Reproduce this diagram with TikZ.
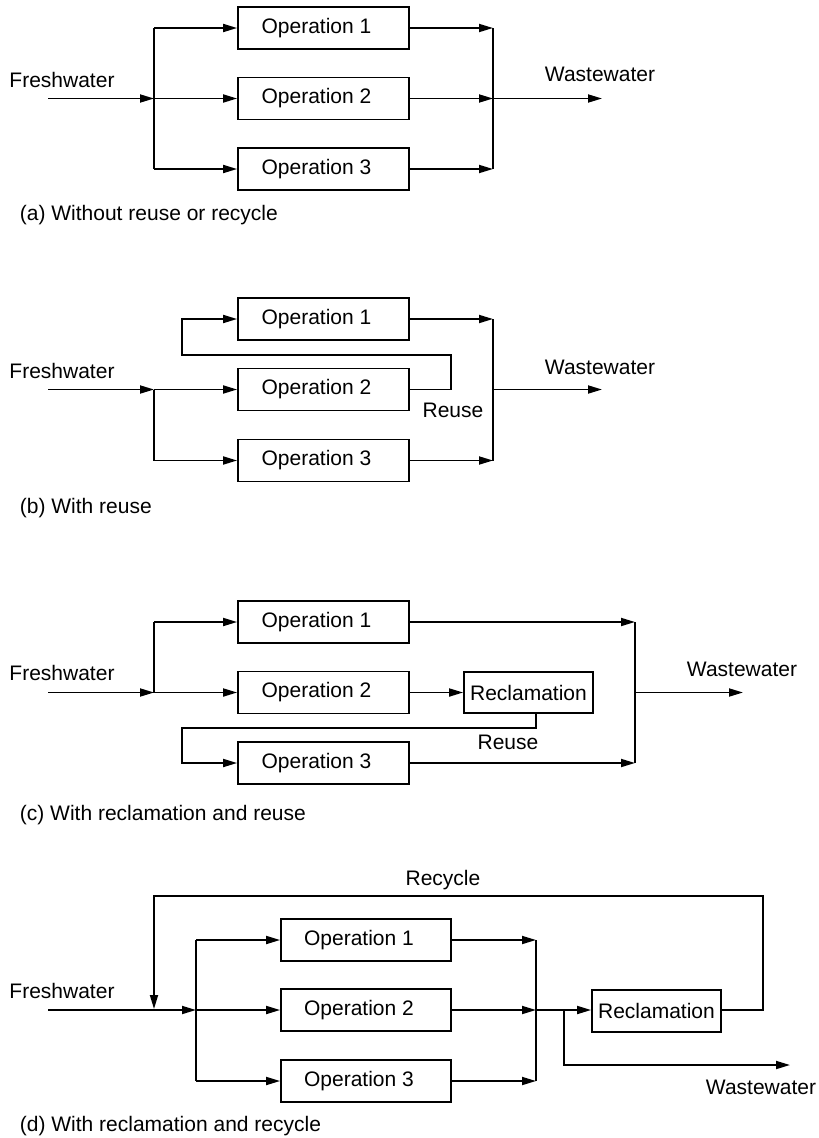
\documentclass[tikz,border=0pt]{standalone}
\usepackage{fontspec}
\setmainfont{Liberation Sans}
\usetikzlibrary{arrows.meta}
\begin{document}
\begin{tikzpicture}[x=1pt,y=-1pt, line width=1.8pt,
 op/.style={draw, minimum width=171pt, minimum height=42pt, inner sep=0pt, font=\fontsize{21}{24}\selectfont, execute at begin node={\kern-14pt}},
 rec/.style={draw, minimum width=129pt, minimum height=41pt, inner sep=0pt, font=\fontsize{21}{24}\selectfont},
 lbl/.style={inner sep=0pt, font=\fontsize{21}{24}\selectfont},
 arr/.style={-{Triangle[length=14pt,width=8pt]}}]
\useasboundingbox (0,0) rectangle (819,1138);

% ---------- (a) ----------
\node[op] (a1) at (323.5,28) {Operation 1};
\node[op] (a2) at (323.5,98.5) {Operation 2};
\node[op] (a3) at (323.5,169) {Operation 3};
\node[lbl] (afwl) at (62,80) {Freshwater};
\coordinate (afs) at (48,98.5);
\coordinate (aj) at (154,98.5);
\coordinate (am) at (493,98.5);
\coordinate (aw) at (602,98.5);
\draw[arr] (afs) -- (aj);
\draw (aj |- a1) -- (aj |- a3);
\draw[arr] (aj |- a1) -- (a1.west);
\draw[arr] (aj) -- (a2.west);
\draw[arr] (aj |- a3) -- (a3.west);
\draw[arr] (a1.east) -- (am |- a1);
\draw[arr] (a2.east) -- (am);
\draw[arr] (a3.east) -- (am |- a3);
\draw (am |- a1) -- (am |- a3);
\draw[arr] (am) -- (aw);
\node[lbl] (awl) at (600,74) {Wastewater};
\node[lbl, anchor=west] (acap) at (19,215) {(a) Without reuse or recycle};

% ---------- (b) ----------
\node[op] (b1) at (323.5,319) {Operation 1};
\node[op] (b2) at (323.5,389.5) {Operation 2};
\node[op] (b3) at (323.5,460.5) {Operation 3};
\node[lbl] (bfwl) at (62,371) {Freshwater};
\coordinate (bfs) at (48,389.5);
\coordinate (bj) at (154,389.5);
\coordinate (bm) at (493,389.5);
\coordinate (bw) at (602,389.5);
\coordinate (br1) at (451,355);
\coordinate (br2) at (182,355);
\draw[arr] (bfs) -- (bj);
\draw (bj) -- (bj |- b3);
\draw[arr] (bj) -- (b2.west);
\draw[arr] (bj |- b3) -- (b3.west);
\draw[arr] (b2.east) -| (br1) -- (br2) |- (b1.west);
\draw[arr] (b1.east) -- (bm |- b1);
\draw[arr] (b3.east) -- (bm |- b3);
\draw (bm |- b1) -- (bm |- b3);
\draw[arr] (bm) -- (bw);
\node[lbl] (bwl) at (600,367) {Wastewater};
\node[lbl] (bru) at (453,410) {Reuse};
\node[lbl, anchor=west] (bcap) at (19,508) {(b) With reuse};

% ---------- (c) ----------
\node[op] (c1) at (323.5,622) {Operation 1};
\node[op] (c2) at (323.5,692.5) {Operation 2};
\node[op] (c3) at (323.5,763) {Operation 3};
\node[rec] (cr) at (528.5,692.5) {Reclamation};
\node[lbl] (cfwl) at (62,673) {Freshwater};
\coordinate (cfs) at (48,692.5);
\coordinate (cj) at (154,692.5);
\coordinate (cm) at (635,692.5);
\coordinate (cw) at (743,692.5);
\coordinate (cr1) at (536,728);
\coordinate (cr2) at (182,728);
\draw[arr] (cfs) -- (cj);
\draw (cj) -- (cj |- c1);
\draw[arr] (cj |- c1) -- (c1.west);
\draw[arr] (cj) -- (c2.west);
\draw[arr] (c2.east) -- (cr.west);
\draw[arr] (cr.south -| cr1) -- (cr1) -- (cr2) |- (c3.west);
\draw[arr] (c1.east) -- (cm |- c1);
\draw[arr] (c3.east) -- (cm |- c3);
\draw (cm |- c1) -- (cm |- c3);
\draw[arr] (cm) -- (cw);
\node[lbl] (cwl) at (742,669) {Wastewater};
\node[lbl] (cru) at (508,742) {Reuse};
\node[lbl, anchor=west] (ccap) at (19,815) {(c) With reclamation and reuse};

% ---------- (d) ----------
\node[op, minimum width=170pt] (d1) at (366,940) {Operation 1};
\node[op, minimum width=170pt] (d2) at (366,1010) {Operation 2};
\node[op, minimum width=170pt] (d3) at (366,1081) {Operation 3};
\node[rec, minimum height=42pt] (dr) at (656.5,1011) {Reclamation};
\node[lbl] (dfwl) at (62,991) {Freshwater};
\coordinate (dfs) at (48,1010);
\coordinate (dj) at (196,1010);
\coordinate (dm) at (536,1010);
\coordinate (ds) at (564,1010);
\coordinate (dw1) at (564,1065);
\coordinate (dw2) at (790,1065);
\coordinate (dr1) at (763,1010);
\coordinate (dr2) at (763,896);
\coordinate (dr3) at (154,896);
\coordinate (dr4) at (154,1009);
\draw[arr] (dfs) -- (dj);
\draw (dj |- d1) -- (dj |- d3);
\draw[arr] (dj |- d1) -- (d1.west);
\draw[arr] (dj) -- (d2.west);
\draw[arr] (dj |- d3) -- (d3.west);
\draw[arr] (d1.east) -- (dm |- d1);
\draw[arr] (d2.east) -- (dm);
\draw[arr] (d3.east) -- (dm |- d3);
\draw (dm |- d1) -- (dm |- d3);
\draw[arr] (dm) -- (dr.west |- dm);
\draw[arr] (ds) -- (dw1) -- (dw2);
\draw[arr] (dr.east |- dr1) -- (dr1) -- (dr2) -- (dr3) -- (dr4);
\node[lbl] (drcl) at (443,880) {Recycle};
\node[lbl] (dwl) at (761,1087) {Wastewater};
\node[lbl, anchor=west] (dcap) at (19,1126) {(d) With reclamation and recycle};
\end{tikzpicture}
\end{document}
